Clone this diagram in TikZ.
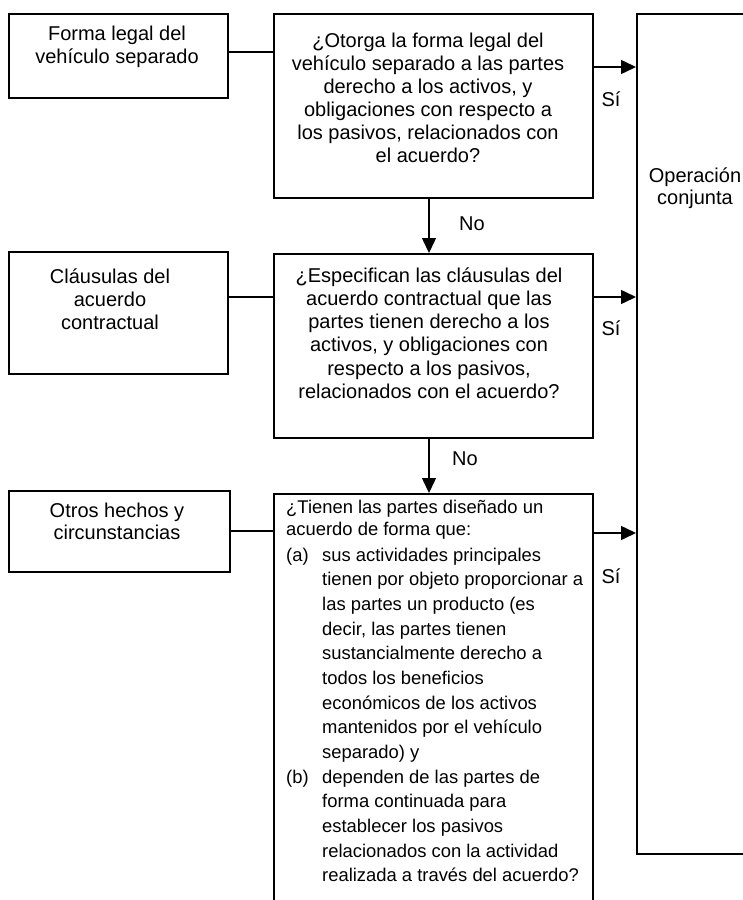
\documentclass[tikz,border=0pt]{standalone}
\usepackage{fontspec}
\setmainfont{Liberation Sans}
\usetikzlibrary{arrows.meta}
\begin{document}
\begin{tikzpicture}[x=1pt,y=-1pt,
  box/.style={draw,line width=1.5pt,inner sep=0pt,anchor=north west},
  txt/.style={inner sep=0pt,anchor=base,font=\fontsize{20}{23}\selectfont},
  txtl/.style={inner sep=0pt,anchor=base west,font=\fontsize{18.4}{22}\selectfont},
  conn/.style={line width=1.5pt},
  arr/.style={line width=1.5pt,-{Triangle[length=15pt,width=14pt]}}
]
\useasboundingbox (0,0) rectangle (743,900);
\clip (0,0) rectangle (743,900);
% boxes
\node[box,minimum width=219pt,minimum height=84pt] (b1) at (8,13) {};
\node[box,minimum width=319pt,minimum height=184pt] (q1) at (273,13) {};
\node[box,minimum width=130pt,minimum height=840pt] (op) at (636,13) {};
\node[box,minimum width=219pt,minimum height=122pt] (b2) at (8,251) {};
\node[box,minimum width=319pt,minimum height=184pt] (q2) at (273,253) {};
\node[box,minimum width=221pt,minimum height=81pt] (b3) at (8,490) {};
\node[box,minimum width=319pt,minimum height=430pt] (q3) at (273,493) {};
% helper coordinates
\coordinate (y1) at (0,52);
\coordinate (s1) at (0,67);
\coordinate (y2) at (0,297);
\coordinate (s2) at (0,297);
\coordinate (y3) at (0,531);
\coordinate (s3) at (0,533);
\coordinate (ax) at (429,0);
% connectors
\draw[conn] (b1.east |- y1) -- (q1.west |- y1);
\draw[conn] (b2.east |- y2) -- (q2.west |- y2);
\draw[conn] (b3.east |- y3) -- (q3.west |- y3);
\draw[arr] (q1.east |- s1) -- (op.west |- s1);
\draw[arr] (q2.east |- s2) -- (op.west |- s2);
\draw[arr] (q3.east |- s3) -- (op.west |- s3);
\draw[arr] (q1.south -| ax) -- (q2.north -| ax);
\draw[arr] (q2.south -| ax) -- (q3.north -| ax);
% labels
\node[txt] (si1) at (611,106) {Sí};
\node[txt] (si2) at (611,335) {Sí};
\node[txt] (si3) at (611,583) {Sí};
\node[txt] (no1) at (472,230) {No};
\node[txt] (no2) at (465,465) {No};
% box texts
\node[txt] (b1a) at (117,40) {Forma legal del};
\node[txt] (b1b) at (117,63) {vehículo separado};
\node[txt] (b2a) at (110,283) {Cláusulas del};
\node[txt] (b2b) at (110,306) {acuerdo};
\node[txt] (b2c) at (110,329) {contractual};
\node[txt] (b3a) at (117,517) {Otros hechos y};
\node[txt] (b3b) at (117,539) {circunstancias};
\node[txt] (opa) at (695,182) {Operación};
\node[txt] (opb) at (695,204) {conjunta};
\foreach \t [count=\i from 0] in {{¿Otorga la forma legal del},{vehículo separado a las partes},{derecho a los activos, y},{obligaciones con respecto a},{los pasivos, relacionados con},{el acuerdo?}}
  \node[txt] (q1l\i) at (428,{47+23*\i}) {\t};
\foreach \t [count=\i from 0] in {{¿Especifican las cláusulas del},{acuerdo contractual que las},{partes tienen derecho a los},{activos, y obligaciones con},{respecto a los pasivos,},{relacionados con el acuerdo?}}
  \node[txt] (q2l\i) at (429,{282+23.3*\i}) {\t};
\node[txtl] (q3h1) at (286,513) {¿Tienen las partes diseñado un};
\node[txtl] (q3h2) at (286,535) {acuerdo de forma que:};
\node[txtl] (q3a) at (286,561) {(a)};
\node[txtl] (q3b) at (286,{561+9*24.67}) {(b)};
\foreach \t [count=\i from 0] in {{sus actividades principales},{tienen por objeto proporcionar a},{las partes un producto (es},{decir, las partes tienen},{sustancialmente derecho a},{todos los beneficios},{económicos de los activos},{mantenidos por el vehículo},{separado) y},{dependen de las partes de},{forma continuada para},{establecer los pasivos},{relacionados con la actividad},{realizada a través del acuerdo?}}
  \node[txtl] (q3l\i) at (322,{561+24.67*\i}) {\t};
\end{tikzpicture}
\end{document}
